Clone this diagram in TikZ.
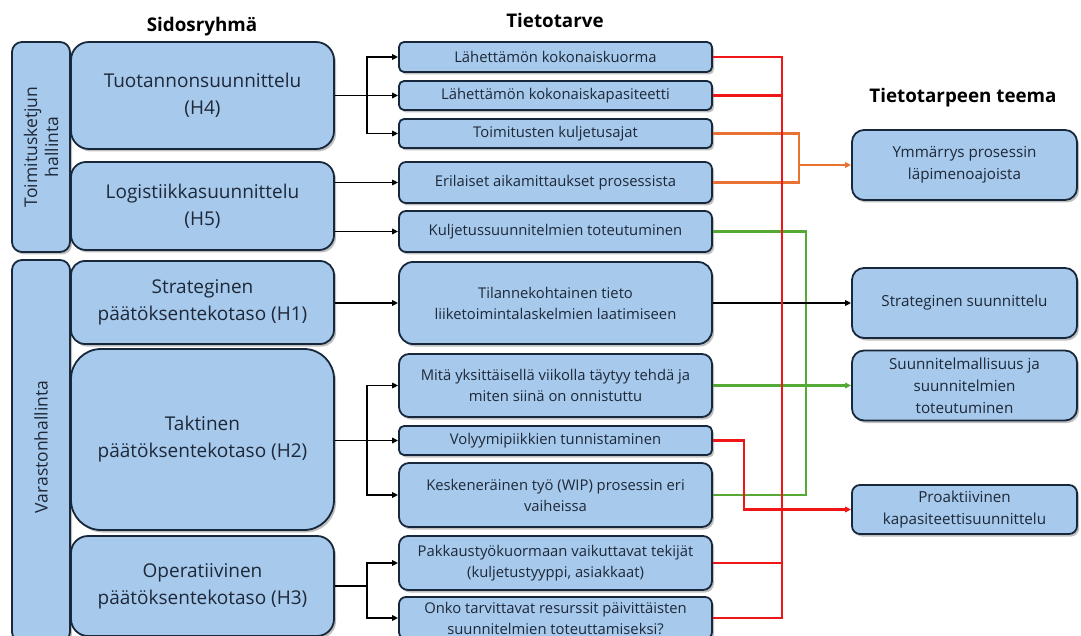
\documentclass[tikz,border=0pt]{standalone}
\usepackage{fontspec}
\setmainfont{Open Sans}
\usetikzlibrary{arrows.meta,shadows}

\definecolor{boxfill}{RGB}{166,201,236}
\definecolor{boxline}{RGB}{24,40,60}
\definecolor{txt}{RGB}{30,40,56}
\definecolor{redc}{RGB}{238,22,22}
\definecolor{orc}{RGB}{233,113,50}
\definecolor{grc}{RGB}{84,170,52}

\tikzset{
  box/.style={draw=boxline, line width=1.8pt, fill=boxfill, text=txt,
    align=center, inner sep=2pt,
    drop shadow={shadow xshift=2pt, shadow yshift=-2.5pt, opacity=0.35, fill=black!70}},
  hbox/.style={box, minimum width=263, font=\fontsize{19}{27}\selectfont},
  nbox/.style={box, minimum width=313, font=\fontsize{14.8}{21}\selectfont},
  tbox/.style={box, minimum width=225, font=\fontsize{15.2}{22}\selectfont},
  sidetext/.style={text=txt, align=center, rotate=90, font=\fontsize{17.5}{21}\selectfont},
  heading/.style={font=\bfseries\fontsize{18.8}{22}\selectfont, text=black},
  link/.style={line width=1.6pt, draw=black},
  arr/.style={-{Triangle[length=6pt,width=5.5pt]}},
  redline/.style={line width=2.8pt, draw=redc},
  orline/.style={line width=2.8pt, draw=orc},
  grline/.style={line width=2.8pt, draw=grc},
}

\begin{document}
\begin{tikzpicture}[x=1pt,y=-1pt]
\useasboundingbox (0,0) rectangle (1081,636);
\clip (0,0) rectangle (1081,636);
\fill[white] (0,0) rectangle (1081,636);

% column headings
\node[heading] (h1) at (202,27) {Sidosryhmä};
\node[heading] (h2) at (555,20) {Tietotarve};
\node[heading] (h3) at (963,98) {Tietotarpeen teema};

% side groups
\node[box, minimum width=58, minimum height=210, rounded corners=10] (TK) at (41,147) {};
\node[sidetext] (TKt) at (TK.center) {Toimitusketjun\\hallinta};
\node[box, minimum width=58, minimum height=382, rounded corners=10] (VH) at (41,451) {};
\node[sidetext] (VHt) at (41,447) {Varastonhallinta};

% stakeholder boxes
\node[hbox, minimum height=107, rounded corners=18] (H4) at (202.5,95.5) {Tuotannonsuunnittelu\\(H4)};
\node[hbox, minimum height=88, rounded corners=15] (H5) at (202.5,206) {Logistiikkasuunnittelu\\(H5)};
\node[hbox, minimum height=83, rounded corners=14] (H1) at (202.5,302.5) {Strateginen\\päätöksentekotaso (H1)};
\node[hbox, minimum height=181, rounded corners=30] (H2) at (202.5,439.5) {Taktinen\\päätöksentekotaso (H2)};
\node[hbox, minimum height=100, rounded corners=17] (H3) at (202.5,586) {Operatiivinen\\päätöksentekotaso (H3)};

% information needs
\node[nbox, minimum height=30, rounded corners=5] (T1) at (555.5,57) {Lähettämön kokonaiskuorma};
\node[nbox, minimum height=29, rounded corners=5] (T2) at (555.5,95.5) {Lähettämön kokonaiskapasiteetti};
\node[nbox, minimum height=29, rounded corners=5] (T3) at (555.5,133.5) {Toimitusten kuljetusajat};
\node[nbox, minimum height=41, rounded corners=7] (T4) at (555.5,182.5) {Erilaiset aikamittaukset prosessista};
\node[nbox, minimum height=41, rounded corners=7] (T5) at (555.5,231.5) {Kuljetussuunnitelmien toteutuminen};
\node[nbox, minimum height=82, rounded corners=14] (T6) at (555.5,303) {Tilannekohtainen tieto\\liiketoimintalaskelmien laatimiseen};
\node[nbox, minimum height=63, rounded corners=10] (T7) at (555.5,385.5) {Mitä yksittäisellä viikolla täytyy tehdä ja\\miten siinä on onnistuttu};
\node[nbox, minimum height=29, rounded corners=5] (T8) at (555.5,440.5) {Volyymipiikkien tunnistaminen};
\node[nbox, minimum height=64, rounded corners=10] (T9) at (555.5,495) {Keskeneräinen työ (WIP) prosessin eri\\vaiheissa};
\node[nbox, minimum height=54, rounded corners=9] (T10) at (555.5,563) {Pakkaustyökuormaan vaikuttavat tekijät\\(kuljetustyyppi, asiakkaat)};
\node[nbox, minimum height=42, rounded corners=7] (T11) at (555.5,618) {Onko tarvittavat resurssit päivittäisten\\suunnitelmien toteuttamiseksi?};

% themes
\node[tbox, minimum height=70, rounded corners=12] (M1) at (964.5,165) {Ymmärrys prosessin\\läpimenoajoista};
\node[tbox, minimum height=70, rounded corners=12] (M2) at (964.5,303) {Strateginen suunnittelu};
\node[tbox, minimum height=70, rounded corners=12] (M3) at (964.5,385.5) {Suunnitelmallisuus ja\\suunnitelmien\\toteutuminen};
\node[tbox, minimum height=49, rounded corners=8] (M4) at (964.5,509.5) {Proaktiivinen\\kapasiteettisuunnittelu};

% routing columns
\coordinate (jx) at (367,0);
\coordinate (vx) at (744,0);
\coordinate (rx) at (782,0);
\coordinate (ox) at (799,0);
\coordinate (gx) at (806,0);

% stakeholder -> information need
\draw[link,arr] (H4.east) -- (T2.west);
\draw[link,arr] (H4.east -| jx) |- (T1.west);
\draw[link,arr] (H4.east -| jx) |- (T3.west);
\draw[link,arr] (H5.east |- T4.west) -- (T4.west);
\draw[link,arr] (H5.east |- T5.west) -- (T5.west);
\draw[link,arr] (H1.east |- T6.west) -- (T6.west);
\draw[link,arr] (H2.east |- T8.west) -- (T8.west);
\draw[link,arr] (T8.west -| jx) |- (T7.west);
\draw[link,arr] (T8.west -| jx) |- (T9.west);
\draw[link] (H3.east) -- (H3.east -| jx);
\draw[link,arr] (H3.east -| jx) |- (T10.west);
\draw[link,arr] (H3.east -| jx) |- (T11.west);

% information need -> theme
\draw[grline] (T5.east) -- (T5.east -| gx) -- (T9.east -| gx) -- (T9.east);
\draw[grline,arr] (T7.east) -- (M3.west);
\draw[orline] (T3.east) -- (T3.east -| ox) -- (T4.east -| ox) -- (T4.east);
\draw[orline,arr] (M1.west -| ox) -- (M1.west);
\draw[link,line width=2.4pt,arr] (T6.east) -- (M2.west);
\draw[redline] (T1.east) -- (T1.east -| rx) -- (T11.east -| rx) -- (T11.east);
\draw[redline] (T2.east) -- (T2.east -| rx);
\draw[redline] (T10.east) -- (T10.east -| rx);
\draw[redline,arr] (T8.east) -- (T8.east -| vx) |- (M4.west);
\end{tikzpicture}
\end{document}
